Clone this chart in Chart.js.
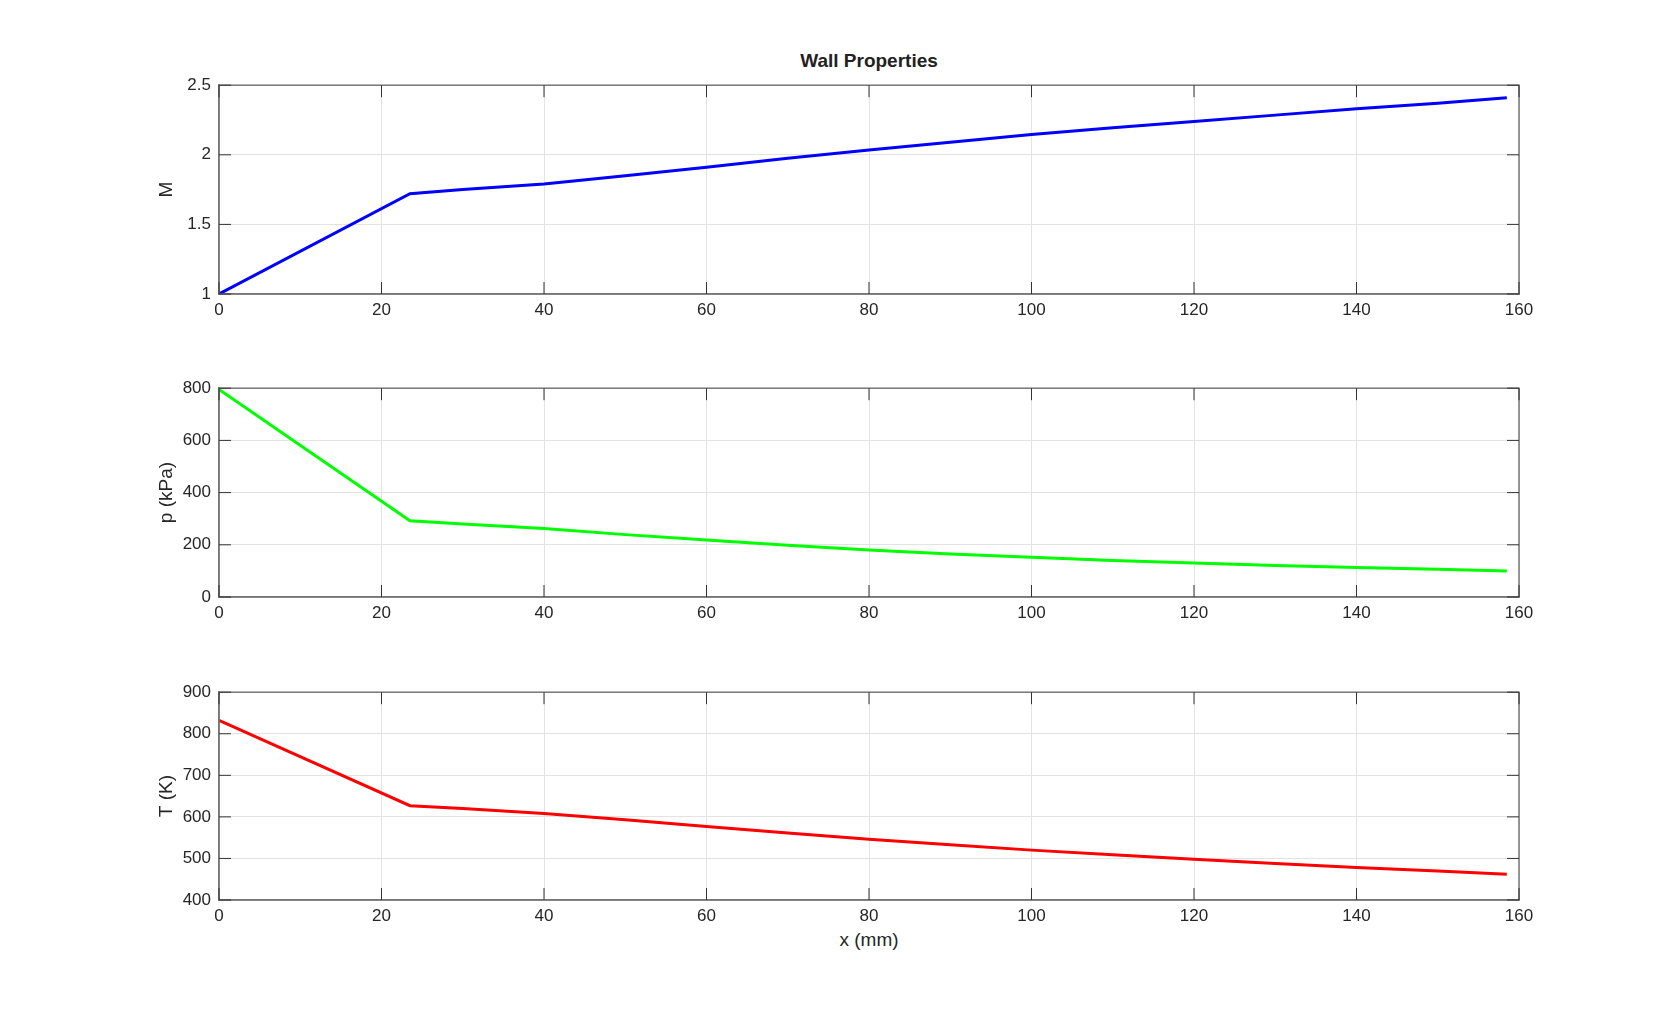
<!DOCTYPE html>
<html><head><meta charset="utf-8">
<script src="https://cdn.jsdelivr.net/npm/chart.js@4"></script>
<style>
body{margin:0;background:#fff;width:1679px;height:1011px;position:relative;overflow:hidden;font-family:"Liberation Sans",Arial,sans-serif}
canvas{position:absolute;left:0}
#title{position:absolute;top:50px;left:219px;width:1300px;text-align:center;font-weight:bold;font-size:19px;color:#222}
#xlab{position:absolute;top:929px;left:219px;width:1300px;text-align:center;font-size:19px;color:#262626}
</style></head><body>
<div id="title">Wall Properties</div>
<div id="xlab">x (mm)</div>
<canvas id="c1"></canvas><canvas id="c2"></canvas><canvas id="c3"></canvas>
<script>
// x positions along the wall (mm)
const xs = [0, 23.5, 30, 40, 50, 60, 70, 80, 90, 100, 110, 120, 130, 140, 150, 158.5];
const machVals = [1.0, 1.72, 1.75, 1.79, 1.85, 1.91, 1.975, 2.035, 2.09, 2.145, 2.195, 2.24, 2.285, 2.33, 2.37, 2.41];
const pressVals = [795, 292, 280, 262, 239, 218, 198, 180, 165, 152, 140, 130, 121, 113, 106, 100];
const tempVals = [832, 627, 620, 608, 593, 577, 561, 546, 533, 520, 509, 498, 488, 478, 470, 462];

function makePlot(id, top, bottom, vals, color, yMin, yMax, yStep, yLabel) {
    const cv = document.getElementById(id);
    const extra = 40;
    const h = (bottom - top) + 10 + extra;
    cv.style.top = (top - 10) + 'px';
    cv.width = 1679; cv.height = h;
    cv.style.width = '1679px'; cv.style.height = h + 'px';
    const font = {family: '"Liberation Sans", Arial, sans-serif', size: 17};
    new Chart(cv.getContext('2d'), {
        type: 'line',
        data: {datasets: [{
            data: xs.map((x, i) => ({x, y: vals[i]})),
            borderColor: color, borderWidth: 3, pointRadius: 0, tension: 0, fill: false
        }]},
        options: {
            responsive: false, animation: false,
            layout: {padding: {top: 10, right: 160, left: 0, bottom: 0}},
            plugins: {legend: {display: false}, tooltip: {enabled: false}},
            scales: {
                x: {type: 'linear', min: 0, max: 160,
                    ticks: {stepSize: 20, color: '#262626', font, maxRotation: 0, padding: 6},
                    grid: {color: '#e3e3e3', drawTicks: false},
                    border: {color: '#777', width: 1.5},
                    afterFit: s => { s.height = extra; }
                },
                y: {min: yMin, max: yMax,
                    ticks: {stepSize: yStep, color: '#262626', font, padding: 8,
                            callback: v => String(+v.toFixed(2))},
                    grid: {color: '#e3e3e3', drawTicks: false},
                    border: {color: '#777', width: 1.5},
                    afterFit: s => { s.width = 219; }
                }
            }
        },
        plugins: [{
            id: 'frame',
            afterDraw(chart) {
                const {ctx, chartArea: a} = chart;
                ctx.save(); ctx.strokeStyle = '#777'; ctx.lineWidth = 1.5;
                ctx.strokeRect(a.left, a.top, a.right - a.left, a.bottom - a.top);
                ctx.strokeStyle = '#333'; ctx.lineWidth = 1;
                const xsS = chart.scales.x, ysS = chart.scales.y;
                xsS.ticks.forEach(t => {
                    const p = xsS.getPixelForValue(t.value);
                    ctx.beginPath(); ctx.moveTo(p, a.bottom); ctx.lineTo(p, a.bottom - 12);
                    ctx.moveTo(p, a.top); ctx.lineTo(p, a.top + 12); ctx.stroke();
                });
                ysS.ticks.forEach(t => {
                    const p = ysS.getPixelForValue(t.value);
                    ctx.beginPath(); ctx.moveTo(a.left, p); ctx.lineTo(a.left + 12, p);
                    ctx.moveTo(a.right, p); ctx.lineTo(a.right - 12, p); ctx.stroke();
                });
                // y axis label
                ctx.translate(176, (a.top + a.bottom) / 2); ctx.rotate(-Math.PI / 2);
                ctx.fillStyle = '#262626'; ctx.font = '19px "Liberation Sans", Arial, sans-serif';
                ctx.textAlign = 'center'; ctx.textBaseline = 'bottom';
                ctx.fillText(yLabel, 0, 0);
                ctx.restore();
            }
        }]
    });
}
makePlot('c1', 77, 294, machVals, '#0000ff', 1, 2.5, 0.5, 'M');
makePlot('c2', 380, 597, pressVals, '#00ff00', 0, 800, 200, 'p (kPa)');
makePlot('c3', 684, 900, tempVals, '#ff0000', 400, 900, 100, 'T (K)');
</script></body></html>
